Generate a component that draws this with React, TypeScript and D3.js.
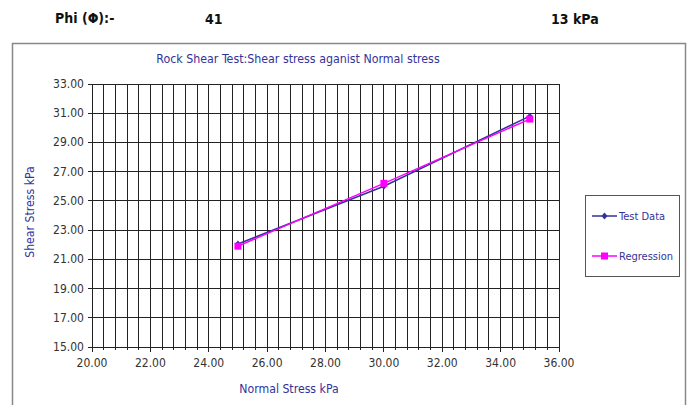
import * as d3 from 'd3';
import React from 'react';

const width = 693;
const height = 405;
const plot = { left: 92, right: 559, top: 84, bottom: 347 };
const navy = '#333399';
const magenta = '#ff00ff';

const normalStress = [25, 30, 35];
const testData = [22.05, 26.0, 30.8];
const regression = [21.9, 26.2, 30.6];
const xTicks = [20, 22, 24, 26, 28, 30, 32, 34, 36];
const yTicks = [15, 17, 19, 21, 23, 25, 27, 29, 31, 33];
const series = [
  { name: 'Test Data', values: testData, color: navy, marker: 'diamond' },
  { name: 'Regression', values: regression, color: magenta, marker: 'square' }
];

const xScale = d3.scaleLinear().domain([20, 36]).range([plot.left, plot.right]);
const yScale = d3.scaleLinear().domain([15, 33]).range([plot.bottom, plot.top]);
const xMinor = d3.range(0, 41).map(i => 20 + i * 0.4);

const font = 'Tahoma, "DejaVu Sans Condensed", "Liberation Sans", sans-serif';

function Marker({ kind, x, y, color }: { kind: string; x: number; y: number; color: string }) {
  if (kind === 'square') return <rect x={x - 3.5} y={y - 3.5} width={7} height={7} fill={color} />;
  return <path d={`M${x},${y - 3.5}L${x + 3},${y}L${x},${y + 3.5}L${x - 3},${y}Z`} fill={color} />;
}

export default function App() {
  const line = d3.line<number>()
    .x((_, i) => xScale(normalStress[i]))
    .y(d => yScale(d));

  return (
    <svg width={width} height={height} style={{ position: 'absolute', left: 0, top: 0, background: '#fff' }}
      fontFamily={font}>
      <rect x={0} y={0} width={width} height={height} fill="#fff" />
      {/* header */}
      <g fontWeight="bold" fontSize={14} fill="#111">
        <text x={55} y={23}>Phi (Φ):-</text>
        <text x={205} y={24}>41</text>
        <text x={551} y={24}>13 kPa</text>
      </g>
      {/* chart frame */}
      <rect x={12.5} y={43.5} width={673} height={370} fill="#fff" stroke="#888" strokeWidth={1.5} />
      <text x={298} y={63} textAnchor="middle" fontSize={12.3} fill={navy}>
        Rock Shear Test:Shear stress aganist Normal stress
      </text>
      {/* grid */}
      <g stroke="#222" strokeWidth={1} shapeRendering="crispEdges">
        {xMinor.map(v => (
          <line key={'v' + v} x1={xScale(v)} x2={xScale(v)} y1={plot.top} y2={plot.bottom + 3} />
        ))}
        {yTicks.map(v => (
          <line key={'h' + v} x1={plot.left - 4} x2={plot.right} y1={yScale(v)} y2={yScale(v)} />
        ))}
        {xTicks.map(v => (
          <line key={'t' + v} x1={xScale(v)} x2={xScale(v)} y1={plot.bottom} y2={plot.bottom + 5} />
        ))}
      </g>
      {/* tick labels */}
      <g fontSize={12} fill="#333">
        {yTicks.map(v => (
          <text key={v} x={plot.left - 8} y={yScale(v) + 4} textAnchor="end">{v.toFixed(2)}</text>
        ))}
        {xTicks.map(v => (
          <text key={v} x={xScale(v)} y={plot.bottom + 20} textAnchor="middle">{v.toFixed(2)}</text>
        ))}
      </g>
      {/* axis titles */}
      <text x={289} y={393} textAnchor="middle" fontSize={12.2} fill={navy}>Normal Stress kPa</text>
      <text transform={`translate(34, 212) rotate(-90)`} textAnchor="middle" fontSize={12.2} fill={navy}>
        Shear Stress kPa
      </text>
      {/* series */}
      {series.map(s => (
        <g key={s.name}>
          <path d={line(s.values) || ''} fill="none" stroke={s.color} strokeWidth={1.5} />
          {s.values.map((v, i) => (
            <Marker key={i} kind={s.marker} x={xScale(normalStress[i])} y={yScale(v)} color={s.color} />
          ))}
        </g>
      ))}
      {/* legend */}
      <rect x={585.5} y={195.5} width={94} height={81} fill="#fff" stroke="#555" strokeWidth={1} />
      {series.map((s, i) => {
        const y = 216 + i * 40;
        return (
          <g key={s.name}>
            <line x1={592} x2={617} y1={y} y2={y} stroke={s.color} strokeWidth={1.5} />
            <Marker kind={s.marker} x={604.5} y={y} color={s.color} />
            <text x={619} y={y + 4} fontSize={11} fill={navy}>{s.name}</text>
          </g>
        );
      })}
    </svg>
  );
}
